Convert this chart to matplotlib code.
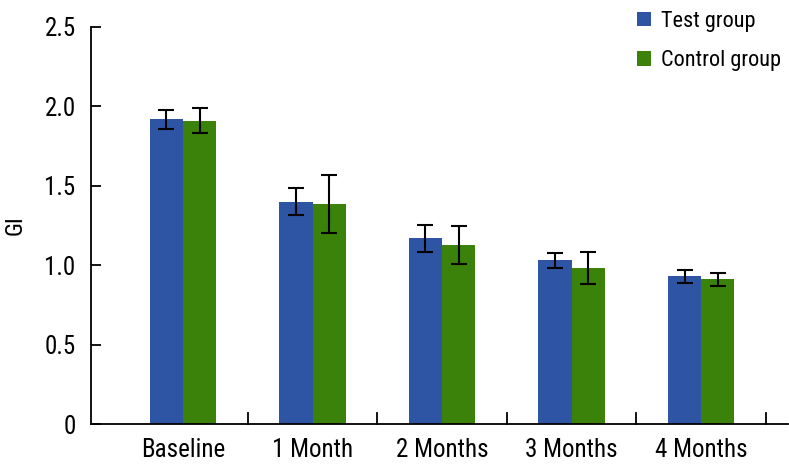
import matplotlib
matplotlib.use("Agg")
import matplotlib.pyplot as plt
import numpy as np

categories = ["Baseline", "1 Month", "2 Months", "3 Months", "4 Months"]
test_vals = [1.92, 1.40, 1.17, 1.03, 0.93]
test_err = [0.06, 0.085, 0.085, 0.045, 0.04]
control_vals = [1.91, 1.385, 1.13, 0.98, 0.91]
control_err = [0.08, 0.18, 0.12, 0.10, 0.04]
yticks = [0, 0.5, 1.0, 1.5, 2.0, 2.5]
ytick_labels = ["0", "0.5", "1.0", "1.5", "2.0", "2.5"]

plt.rcParams['font.family'] = ["Roboto Condensed", "DejaVu Sans"]

blue = "#2D55A4"
green = "#3A820A"

fig = plt.figure(figsize=(7.89, 4.68), dpi=100)
ax = fig.add_axes([91/789, 44/468, (788-91)/789, 397/468])

x = np.arange(len(categories))
w = 0.257
ekw = dict(elinewidth=1.5, capthick=1.5, ecolor="black")
ax.bar(x - w/2, test_vals, w, color=blue, label="Test group",
       yerr=test_err, capsize=5.5, error_kw=ekw)
ax.bar(x + w/2, control_vals, w, color=green, label="Control group",
       yerr=control_err, capsize=5.5, error_kw=ekw)

ax.set_xlim(-0.71, 4.67)
ax.set_ylim(0, 2.5)
ax.set_yticks(yticks)
ax.set_yticklabels(ytick_labels, fontsize=18)
ax.set_xticks(x)
ax.set_xticklabels(categories, fontsize=18)
ax.tick_params(axis='x', length=0, pad=10)
ax.tick_params(axis='y', direction='in', length=7.5, width=1.3, pad=11)
for b in np.arange(0.5, len(categories), 1.0):
    ax.plot([b, b], [0, 0.068], color="black", lw=1.3, clip_on=False)

for s in ["top", "right"]:
    ax.spines[s].set_visible(False)
for s in ["left", "bottom"]:
    ax.spines[s].set_linewidth(1.3)

ax.set_ylabel("GI", fontsize=17, labelpad=13)

leg = fig.legend(loc="upper left", bbox_to_anchor=(637/789, 1 - 11/468), frameon=False,
                 fontsize=16, handlelength=0.63, handleheight=0.63,
                 handletextpad=0.45, labelspacing=0.82, borderpad=0, borderaxespad=0)

fig.savefig("out.png", dpi=100)
